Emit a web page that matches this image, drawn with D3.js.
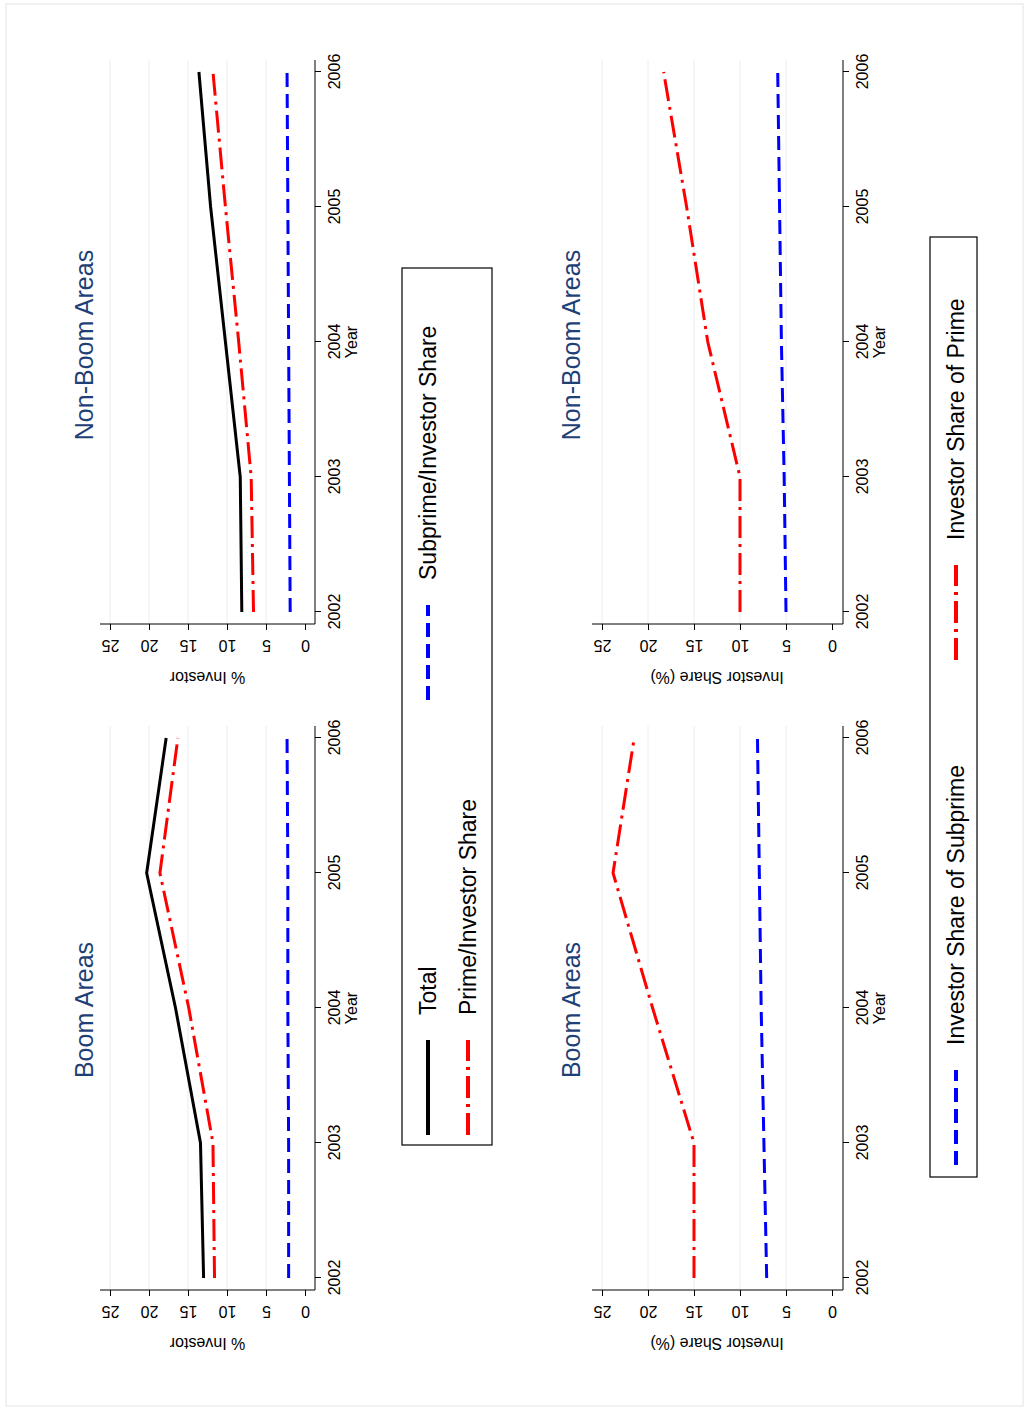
<!DOCTYPE html>
<html><head><meta charset="utf-8">
<script src="https://cdn.jsdelivr.net/npm/d3@7"></script>
<style>body{margin:0;background:#fff;font-family:Arial,"Liberation Sans",sans-serif}</style>
</head><body><div id="viz"></div>
<script>
var years = [2002, 2003, 2004, 2005, 2006];
var valueTicks = [0, 5, 10, 15, 20, 25];

// top row: % Investor
var boomTotal = [13.0, 13.4, 16.6, 20.3, 17.8];
var boomPrime = [11.6, 11.8, 14.9, 18.6, 16.3];
var boomSub = [2.1, 2.1, 2.2, 2.2, 2.3];
var nonTotal = [8.1, 8.3, 10.2, 12.1, 13.6];
var nonPrime = [6.6, 6.9, 8.5, 10.2, 11.8];
var nonSub = [1.9, 2.0, 2.1, 2.2, 2.3];

// bottom row: Investor Share (%)
var boomSharePrime = [15.0, 15.0, 19.5, 23.8, 21.5];
var boomShareSub = [7.1, 7.4, 7.7, 7.9, 8.1];
var nonSharePrime = [10.0, 10.0, 13.5, 15.8, 18.3];
var nonShareSub = [5.0, 5.2, 5.5, 5.7, 5.9];

var W = 1029, H = 1410;
var svg = d3.select("#viz").append("svg").attr("width", W).attr("height", H);
svg.append("rect").attr("x", 6).attr("y", 4).attr("width", W - 12).attr("height", H - 8)
  .attr("fill", "none").attr("stroke", "#e4e4e4");

// draw in landscape frame then rotate to page
var g = svg.append("g").attr("transform", "translate(0," + H + ") rotate(-90)");

var styles = {
  total: {stroke: "#000", width: 3, dash: null},
  prime: {stroke: "#f00", width: 3, dash: "22,6,3,6"},
  sub: {stroke: "#00f", width: 3, dash: "14,7"}
};

function panel(o) {
  var x = d3.scaleLinear().domain([2002, 2006]).range([o.u0, o.u1]);
  var y = d3.scaleLinear().domain([0, 25]).range([o.v0, o.v25]);
  var p = g.append("g");
  p.selectAll(".grid").data(valueTicks.slice(1)).enter().append("line")
    .attr("x1", o.axisU).attr("x2", o.u1 + 12)
    .attr("y1", d => y(d)).attr("y2", d => y(d))
    .attr("stroke", "#e8eef0").attr("stroke-width", 1);
  var xa = p.append("g").attr("transform", "translate(0," + o.axisV + ")")
    .call(d3.axisBottom(x).tickValues(years).tickFormat(d3.format("d")).tickSize(6).tickSizeOuter(0).tickPadding(8));
  xa.select(".domain").attr("d", "M" + (o.axisU) + ",0H" + (o.u1 + 12));
  xa.selectAll("text").attr("font-size", 16).attr("font-family", "Arial");
  p.append("text").attr("x", (o.u0 + o.u1) / 2).attr("y", o.axisV + 42)
    .attr("text-anchor", "middle").attr("font-size", 16).text("Year");
  var ya = p.append("g").attr("transform", "translate(" + o.axisU + ",0)")
    .call(d3.axisLeft(y).tickValues(valueTicks).tickSize(6).tickSizeOuter(0));
  ya.select(".domain").attr("d", "M0," + (o.axisV) + "V" + (o.v25 - 10));
  ya.selectAll(".tick text").attr("font-size", 16).attr("font-family", "Arial")
    .attr("text-anchor", "middle").attr("x", -22).attr("dy", "0.35em")
    .attr("transform", "rotate(-90,-22,0)");
  p.append("text").attr("transform", "translate(" + (o.axisU - 48) + "," + ((o.v0 + o.v25) / 2) + ") rotate(-90)")
    .attr("text-anchor", "middle").attr("font-size", 16).text(o.ylab);
  p.append("text").attr("x", o.titleU).attr("y", o.titleV).attr("text-anchor", "middle")
    .attr("font-size", 25).attr("fill", "#1f3f77").text(o.title);
  var line = d3.line().x((d, i) => x(years[i])).y(d => y(d));
  o.series.forEach(function(s) {
    var st = styles[s.k];
    p.append("path").attr("d", line(s.v)).attr("fill", "none")
      .attr("stroke", st.stroke).attr("stroke-width", st.width)
      .attr("stroke-dasharray", st.dash);
  });
}

var rowTop = {v0: 305, v25: 110, axisV: 315, titleV: 93};
var rowBot = {v0: 832, v25: 602, axisV: 843, titleV: 580};
panel(Object.assign({}, rowTop, {u0: 132, u1: 672, axisU: 120, titleU: 400, title: "Boom Areas", ylab: "% Investor",
  series: [{k: "total", v: boomTotal}, {k: "prime", v: boomPrime}, {k: "sub", v: boomSub}]}));
panel(Object.assign({}, rowTop, {u0: 798, u1: 1338, axisU: 786, titleU: 1065, title: "Non-Boom Areas", ylab: "% Investor",
  series: [{k: "total", v: nonTotal}, {k: "prime", v: nonPrime}, {k: "sub", v: nonSub}]}));
panel(Object.assign({}, rowBot, {u0: 132, u1: 672, axisU: 120, titleU: 400, title: "Boom Areas", ylab: "Investor Share (%)",
  series: [{k: "prime", v: boomSharePrime}, {k: "sub", v: boomShareSub}]}));
panel(Object.assign({}, rowBot, {u0: 798, u1: 1338, axisU: 786, titleU: 1065, title: "Non-Boom Areas", ylab: "Investor Share (%)",
  series: [{k: "prime", v: nonSharePrime}, {k: "sub", v: nonShareSub}]}));

function legend(box, items) {
  var l = g.append("g");
  l.append("rect").attr("x", box[0]).attr("y", box[1]).attr("width", box[2]).attr("height", box[3])
    .attr("fill", "#fff").attr("stroke", "#000").attr("stroke-width", 1.2);
  items.forEach(function(it) {
    var st = styles[it.k];
    l.append("line").attr("x1", it.u).attr("x2", it.u + 95).attr("y1", it.v).attr("y2", it.v)
      .attr("stroke", st.stroke).attr("stroke-width", 4).attr("stroke-dasharray", st.dash);
    l.append("text").attr("x", it.u + 120).attr("y", it.v).attr("dy", "0.35em")
      .attr("font-size", 23).text(it.label);
  });
}
legend([265, 402, 877, 90], [
  {k: "total", u: 275, v: 428, label: "Total"},
  {k: "prime", u: 275, v: 468, label: "Prime/Investor Share"},
  {k: "sub", u: 710, v: 428, label: "Subprime/Investor Share"}
]);
legend([233, 930, 940, 47], [
  {k: "sub", u: 245, v: 956, label: "Investor Share of Subprime"},
  {k: "prime", u: 750, v: 956, label: "Investor Share of Prime"}
]);
</script></body></html>
